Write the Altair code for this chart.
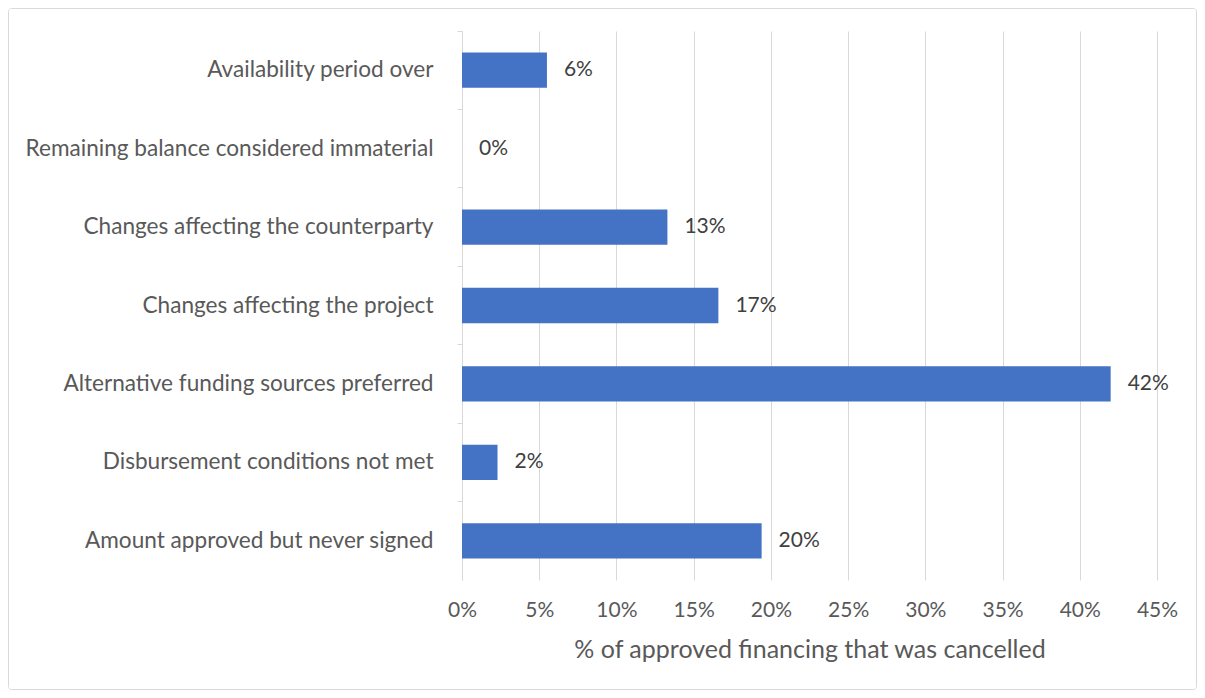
import altair as alt
import pandas as pd

categories = [
    "Availability period over",
    "Remaining balance considered immaterial",
    "Changes affecting the counterparty",
    "Changes affecting the project",
    "Alternative funding sources preferred",
    "Disbursement conditions not met",
    "Amount approved but never signed",
]
values = [0.055, 0.0, 0.133, 0.166, 0.42, 0.023, 0.194]
labels = ["6%", "0%", "13%", "17%", "42%", "2%", "20%"]
x_title = "% of approved financing that was cancelled"

df = pd.DataFrame({"cat": categories, "val": values, "lab": labels})

FONT = "Lato"
TXT = "#595959"
GRID = "#d9d9d9"

yscale = alt.Scale(domain=categories, paddingInner=0, paddingOuter=0)
xscale = alt.Scale(domain=[0, 0.45], nice=False)

xaxis = alt.Axis(
    format=".0%", values=[i * 0.05 for i in range(10)], grid=True, gridColor=GRID,
    domain=False, ticks=False, labelFontSize=21, labelColor=TXT, labelFont=FONT,
    labelPadding=19, labelFlush=False, titleFontSize=25, titleColor=TXT, titleFont=FONT,
    titleFontWeight="normal", titlePadding=17,
)

frame = alt.Chart(pd.DataFrame({"a": [0]})).mark_rect(
    fill="transparent", fillOpacity=0, stroke="#d9d9d9", strokeWidth=1, cornerRadius=3
).encode(
    x=alt.value(-453.5), x2=alt.value(734.5), y=alt.value(-22.5), y2=alt.value(658.5)
)

bars = alt.Chart(df).mark_bar(color="#4472C4", height=alt.RelativeBandSize(0.45)).encode(
    x=alt.X("val:Q", scale=xscale, axis=xaxis, title=x_title),
    y=alt.Y("cat:N", scale=yscale, sort=categories, title=None,
            axis=alt.Axis(orient="left", labels=False, ticks=True, tickSize=5, tickColor=GRID,
                          domain=True, domainColor=GRID, bandPosition=0, grid=False)),
)

text = alt.Chart(df).mark_text(align="left", baseline="middle", dx=17, fontSize=21,
                               font=FONT, color="#404040").encode(
    x=alt.X("val:Q", scale=xscale),
    y=alt.Y("cat:N", scale=yscale, sort=categories, title=None,
            axis=alt.Axis(orient="left", labels=True, ticks=False, domain=False, grid=False,
                          labelFontSize=22.6, labelColor=TXT, labelFont=FONT,
                          labelPadding=29, labelLimit=600)),
    text="lab:N",
)

chart = alt.layer(bars, text, frame).resolve_axis(y="independent").properties(
    width=695, height=549,
    background="white",
    autosize=alt.AutoSizeParams(type="none"),
    padding={"left": 454, "top": 23, "right": 40, "bottom": 110},
).configure_view(stroke="transparent", strokeWidth=0)

chart.save("out.html", embed_options={"renderer": "svg", "actions": False})
